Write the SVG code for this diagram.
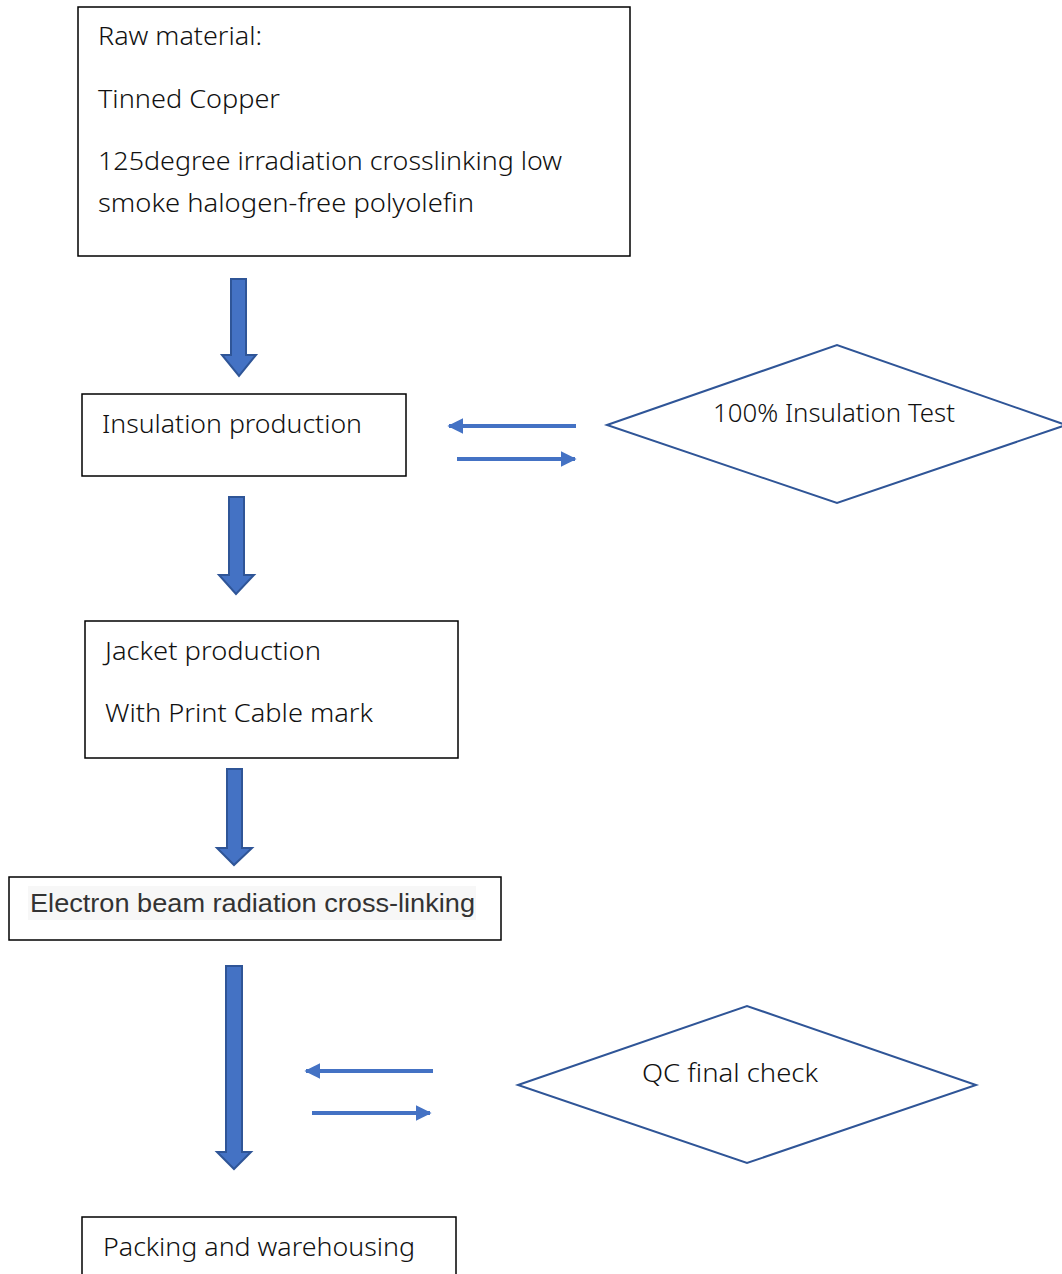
<svg xmlns="http://www.w3.org/2000/svg" width="1062" height="1274" viewBox="0 0 1062 1274">
<style>
.box{fill:#fff;stroke:#000;stroke-width:1.5}
.dia{fill:#fff;stroke:#2F5597;stroke-width:2}
.t{font-family:"Noto Sans","Open Sans",sans-serif;font-size:25px;fill:#111;font-weight:300}
.ta{font-family:"Liberation Sans",Arial,sans-serif;font-size:26px;fill:#333}
.blk{fill:#4472C4;stroke:#2F5597;stroke-width:2}
.ln{stroke:#4472C4;stroke-width:4;fill:none}
</style>
<defs>
<marker id="ah" viewBox="0 0 10 10" refX="9" refY="5" markerWidth="4" markerHeight="4" orient="auto" markerUnits="strokeWidth">
<path d="M0,0 L10,5 L0,10 Z" fill="#4472C4"/>
</marker>
</defs>
<g id="raw">
<rect class="box" x="78" y="7" width="552" height="249"/>
<text class="t" x="98" y="45" textLength="164" lengthAdjust="spacingAndGlyphs">Raw material:</text>
<text class="t" x="98" y="108" textLength="182" lengthAdjust="spacingAndGlyphs">Tinned Copper</text>
<text class="t" x="98" y="170" textLength="464" lengthAdjust="spacingAndGlyphs">125degree irradiation crosslinking low</text>
<text class="t" x="98" y="212" textLength="376" lengthAdjust="spacingAndGlyphs">smoke halogen-free polyolefin</text>
</g>
<g id="insulation">
<rect class="box" x="82" y="394" width="324" height="82"/>
<text class="t" x="102" y="433" textLength="260" lengthAdjust="spacingAndGlyphs">Insulation production</text>
</g>
<g id="test">
<polygon class="dia" points="607,425 837,345 1066,425 837,503"/>
<text class="t" x="713" y="422" textLength="242" lengthAdjust="spacingAndGlyphs">100% Insulation Test</text>
</g>
<g id="jacket">
<rect class="box" x="85" y="621" width="373" height="137"/>
<text class="t" x="105" y="660" textLength="216" lengthAdjust="spacingAndGlyphs">Jacket production</text>
<text class="t" x="105" y="722" textLength="268" lengthAdjust="spacingAndGlyphs">With Print Cable mark</text>
</g>
<g id="electron">
<rect class="box" x="9" y="877" width="492" height="63"/>
<rect x="28" y="886" width="448" height="34" fill="#f7f7f7"/>
<text class="ta" x="30" y="912" textLength="445" lengthAdjust="spacingAndGlyphs">Electron beam radiation cross-linking</text>
</g>
<g id="qc">
<polygon class="dia" points="518,1085 747,1006 976,1085 747,1163"/>
<text class="t" x="642" y="1082" textLength="176" lengthAdjust="spacingAndGlyphs">QC final check</text>
</g>
<g id="packing">
<rect class="box" x="82" y="1217" width="374" height="70"/>
<text class="t" x="103" y="1256" textLength="312" lengthAdjust="spacingAndGlyphs">Packing and warehousing</text>
</g>
<g id="connectors">
<path class="blk" d="M231,279 H246 V355 H256 L239,376 L222,355 H231 Z"/>
<path class="blk" d="M229,497 H244 V575 H254 L236,594 L219,575 H229 Z"/>
<path class="blk" d="M227,769 H242 V848 H252 L234,865 L217,848 H227 Z"/>
<path class="blk" d="M226,966 H242 V1152 H251 L234,1169 L217,1152 H226 Z"/>
<line class="ln" x1="576" y1="426" x2="449" y2="426" marker-end="url(#ah)"/>
<line class="ln" x1="457" y1="459" x2="575" y2="459" marker-end="url(#ah)"/>
<line class="ln" x1="433" y1="1071" x2="306" y2="1071" marker-end="url(#ah)"/>
<line class="ln" x1="312" y1="1113" x2="430" y2="1113" marker-end="url(#ah)"/>
</g>
</svg>
